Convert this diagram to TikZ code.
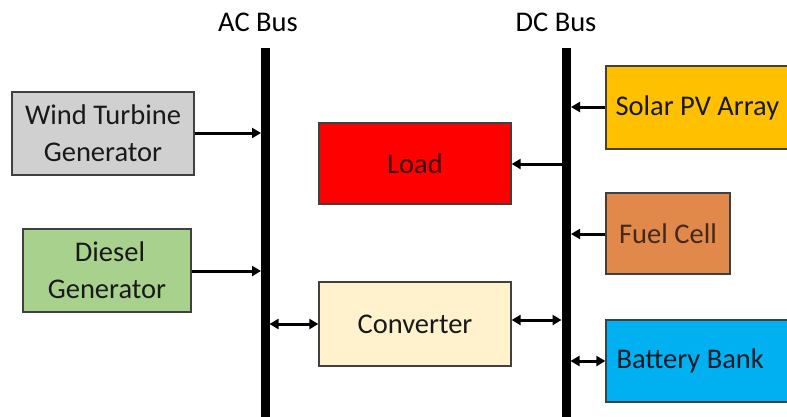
\documentclass[tikz,border=0pt]{standalone}
\usepackage{fontspec}
\setmainfont{Carlito}
\usetikzlibrary{arrows.meta}
\definecolor{wtg}{HTML}{D0D0D0}
\definecolor{dsl}{HTML}{A9D18E}
\definecolor{ld}{HTML}{FF0000}
\definecolor{cnv}{HTML}{FFF2CC}
\definecolor{spv}{HTML}{FFC000}
\definecolor{fcl}{HTML}{E0894A}
\definecolor{bat}{HTML}{00B0F0}
\definecolor{edge}{HTML}{404040}
\tikzset{
  blk/.style={draw=edge, line width=1.3pt, inner sep=0pt, align=center,
    font=\fontsize{28.5}{37}\selectfont, text=black!90},
  bus/.style={line width=9pt},
  conn/.style={line width=3pt, -{Triangle[length=9pt,width=10pt]}},
  bconn/.style={line width=3pt, {Triangle[length=9pt,width=10pt]}-{Triangle[length=9pt,width=10pt]}},
  lbl/.style={font=\fontsize{28.5}{37}\selectfont}
}
\begin{document}
\begin{tikzpicture}[x=1pt,y=-1pt]
\useasboundingbox (0,0) rectangle (787,416);
% buses
\coordinate (act) at (265,48);
\coordinate (acb) at (265,420);
\coordinate (dct) at (566,48);
\coordinate (dcb) at (566,420);
\draw[bus] (act) -- (acb);
\draw[bus] (dct) -- (dcb);
\node[lbl] (aclbl) at (258,22) {AC Bus};
\node[lbl] (dclbl) at (556,22) {DC Bus};
% boxes
\node[blk, fill=wtg, minimum width=182pt, minimum height=83pt] (wind) at (103,133.5) {Wind Turbine\\Generator};
\node[blk, fill=dsl, minimum width=168pt, minimum height=83pt] (diesel) at (107,270.5) {\hspace*{6pt}Diesel\\Generator};
\node[blk, fill=ld, minimum width=192pt, minimum height=81pt, text=black!75!red] (load) at (415,163.5) {Load};
\node[blk, fill=cnv, minimum width=192pt, minimum height=84pt] (conv) at (415,324) {Converter};
\node[blk, fill=spv, minimum width=190pt, minimum height=83pt] (solar) at (701,107.5) {};
\node[lbl, anchor=west, text=black!90] (solart) at (612,107.5) {Solar PV Array};
\node[blk, fill=fcl, minimum width=124pt, minimum height=81pt, text=black!70!fcl] (fuel) at (668,233.5) {Fuel Cell};
\node[blk, fill=bat, minimum width=190pt, minimum height=82pt] (batt) at (701,361) {};
\node[lbl, anchor=west, text=black!85!bat] (battt) at (613,361) {Battery Bank};
% connector endpoints on buses
\coordinate (acw) at (261,133);
\coordinate (acd) at (261,271);
\coordinate (acc) at (269.5,324);
\coordinate (dcs) at (571,107);
\coordinate (dcl) at (561.5,164);
\coordinate (dcf) at (571,234);
\coordinate (dcc) at (561.5,320);
\coordinate (dcbt) at (570.5,361);
% connectors
\draw[conn] (wind.east |- acw) -- (acw);
\draw[conn] (diesel.east |- acd) -- (acd);
\draw[bconn] (acc) -- (conv.west |- acc);
\draw[conn] (solar.west |- dcs) -- (dcs);
\draw[conn] (dcl) -- (load.east |- dcl);
\draw[conn] (fuel.west |- dcf) -- (dcf);
\draw[bconn] (conv.east |- dcc) -- (dcc);
\draw[bconn] (dcbt) -- (batt.west |- dcbt);
\end{tikzpicture}
\end{document}
